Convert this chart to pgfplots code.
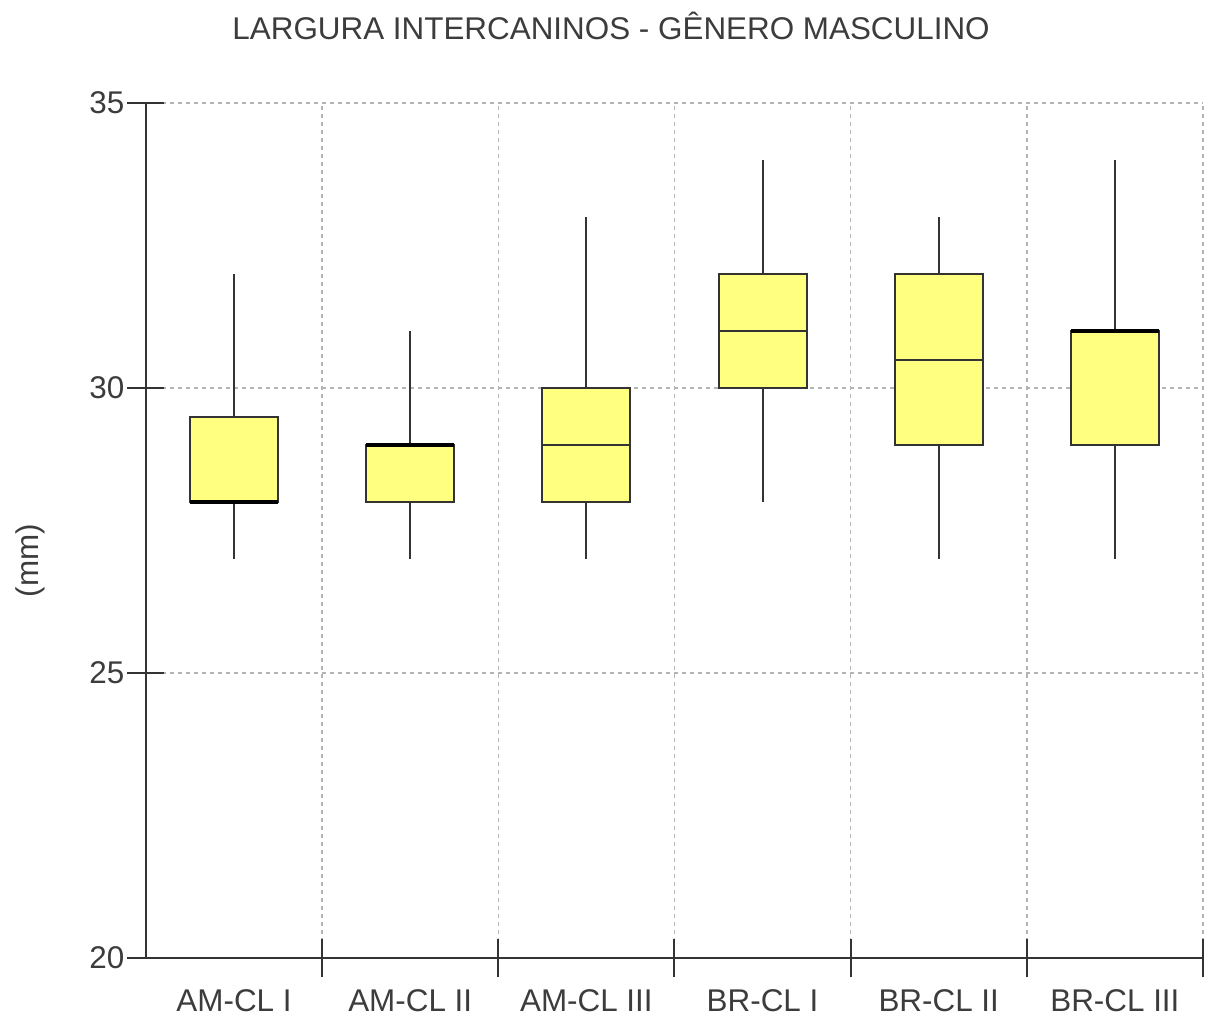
\documentclass[border=0pt]{standalone}
\usepackage{pgfplots}
\pgfplotsset{compat=1.18}
\usepgfplotslibrary{statistics}
\usepackage{fontspec}
\setmainfont{Liberation Sans}
\definecolor{boxfill}{HTML}{FFFF80}
\definecolor{axgray}{HTML}{333333}
\definecolor{txtgray}{HTML}{3C3C3C}
\definecolor{gridgray}{HTML}{B4B4B4}
\begin{document}
\begin{tikzpicture}
\begin{axis}[
  scale only axis, width=528.5pt, height=427.5pt,
  xmin=-0.5, xmax=5.5, ymin=20, ymax=35,
  axis x line=bottom, axis y line=left,
  axis line style={axgray, line width=1pt, -},
  tick align=center,
  xtick={0,...,5},
  xticklabels={AM-CL I, AM-CL II, AM-CL III, BR-CL I, BR-CL II, BR-CL III},
  major x tick style={draw=none},
  minor xtick={0.5,1.5,...,5.5},
  minor tick length=19pt,
  major tick length=18.5pt,
  minor x tick style={axgray, line width=1pt},
  major y tick style={axgray, line width=1pt},
  ytick={20,25,30,35},
  yticklabels={20,25,30,35},
  xminorgrids, ymajorgrids,
  minor grid style={gridgray, line width=0.7pt, dash pattern=on 2pt off 2pt},
  major grid style={gridgray, line width=0.7pt, dash pattern=on 2pt off 2pt},
  ticklabel style={font=\fontsize{15.7}{18}\selectfont, text=txtgray},
  xticklabel style={yshift=-3pt},
  yticklabel style={xshift=2pt},
  title={LARGURA INTERCANINOS - GÊNERO MASCULINO},
  title style={font=\fontsize{15.7}{18}\selectfont, text=txtgray, at={(rel axis cs:0.44,1.0737)}, anchor=base, yshift=-6pt},
  ylabel={(mm)},
  ylabel style={font=\fontsize{15.7}{18}\selectfont, text=txtgray, at={(rel axis cs:-0.1097,0.465)}, anchor=center},
  boxplot/draw direction=y,
  clip=false,
]
\addplot[boxplot prepared={draw position=0, lower whisker=27, lower quartile=28, median=28, upper quartile=29.5, upper whisker=32, box extend=0.5, whisker extend=0, every median/.style={black,line width=2pt}}, draw=axgray, fill=boxfill, line width=1pt] coordinates {};
\addplot[boxplot prepared={draw position=1, lower whisker=27, lower quartile=28, median=29, upper quartile=29, upper whisker=31, box extend=0.5, whisker extend=0, every median/.style={black,line width=2pt}}, draw=axgray, fill=boxfill, line width=1pt] coordinates {};
\addplot[boxplot prepared={draw position=2, lower whisker=27, lower quartile=28, median=29, upper quartile=30, upper whisker=33, box extend=0.5, whisker extend=0}, draw=axgray, fill=boxfill, line width=1pt] coordinates {};
\addplot[boxplot prepared={draw position=3, lower whisker=28, lower quartile=30, median=31, upper quartile=32, upper whisker=34, box extend=0.5, whisker extend=0}, draw=axgray, fill=boxfill, line width=1pt] coordinates {};
\addplot[boxplot prepared={draw position=4, lower whisker=27, lower quartile=29, median=30.5, upper quartile=32, upper whisker=33, box extend=0.5, whisker extend=0}, draw=axgray, fill=boxfill, line width=1pt] coordinates {};
\addplot[boxplot prepared={draw position=5, lower whisker=27, lower quartile=29, median=31, upper quartile=31, upper whisker=34, box extend=0.5, whisker extend=0, every median/.style={black,line width=2pt}}, draw=axgray, fill=boxfill, line width=1pt] coordinates {};
\coordinate (bl) at (rel axis cs:-0.1381,-0.0702);
\coordinate (tr) at (rel axis cs:1.00662,1.1205);
\end{axis}
\pgfresetboundingbox
\path (bl) rectangle (tr);
\end{tikzpicture}
\end{document}
